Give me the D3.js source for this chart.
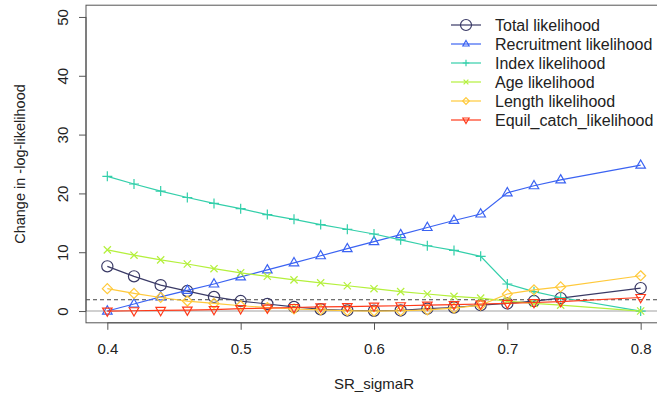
<!DOCTYPE html>
<html>
<head>
<meta charset="utf-8">
<script src="https://cdn.jsdelivr.net/npm/d3@7"></script>
<style>
  body { margin: 0; background: #fff; }
  svg { font-family: "Liberation Sans", Arial, sans-serif; }
</style>
</head>
<body>
<div id="chart"></div>
<script>
var width = 657,
  height = 407;

// data
var sigmaR = [0.40, 0.42, 0.44, 0.46, 0.48, 0.50, 0.52, 0.54, 0.56, 0.58, 0.60, 0.62, 0.64, 0.66, 0.68, 0.70, 0.72, 0.74, 0.80];
var totalLike = [7.6, 5.9, 4.4, 3.4, 2.4, 1.7, 1.2, 0.7, 0.3, 0.1, 0.05, 0.1, 0.4, 0.6, 1.0, 1.3, 1.7, 2.2, 3.9];
var recruitLike = [0, 1.2, 2.4, 3.5, 4.6, 5.8, 7.0, 8.2, 9.4, 10.6, 11.8, 13.0, 14.2, 15.4, 16.5, 20.1, 21.3, 22.3, 24.8];
var indexLike = [22.9, 21.6, 20.4, 19.3, 18.3, 17.4, 16.4, 15.6, 14.7, 13.9, 13.1, 12.1, 11.1, 10.3, 9.3, 4.6, 3.3, 2.3, 0];
var ageLike = [10.4, 9.5, 8.7, 8.0, 7.2, 6.5, 5.9, 5.3, 4.8, 4.3, 3.8, 3.3, 2.9, 2.5, 2.2, 1.7, 1.3, 1.0, 0];
var lengthLike = [3.8, 3.0, 2.3, 1.7, 1.3, 0.9, 0.6, 0.35, 0.2, 0.05, 0, 0.05, 0.2, 0.5, 1.0, 2.9, 3.6, 4.1, 6.0];
var equilLike = [0, 0.05, 0.1, 0.15, 0.25, 0.4, 0.5, 0.6, 0.7, 0.75, 0.85, 0.9, 1.0, 1.1, 1.2, 1.3, 1.45, 1.6, 2.3];

var seriesNames = ["Total likelihood", "Recruitment likelihood", "Index likelihood", "Age likelihood", "Length likelihood", "Equil_catch_likelihood"];
var seriesColors = ["#3a3a66", "#3b63f2", "#33cfaa", "#b4f03c", "#ffc93a", "#ff3a1a"];
var seriesShapes = ["circle", "triUp", "plus", "cross", "diamond", "triDown"];
var seriesData = [totalLike, recruitLike, indexLike, ageLike, lengthLike, equilLike];

var xTicks = [0.4, 0.5, 0.6, 0.7, 0.8];
var yTicks = [0, 10, 20, 30, 40, 50];
var cutoff = 1.92;

var x = d3.scaleLinear().domain([0.384, 0.816]).range([86, 662]);
var y = d3.scaleLinear().domain([-2, 52]).range([322.8, 5.2]);

var svg = d3.select("#chart")
  .append("svg")
  .attr("width", width)
  .attr("height", height);

// reference lines
svg.append("line")
  .attr("x1", 86).attr("x2", 662)
  .attr("y1", y(0)).attr("y2", y(0))
  .attr("stroke", "#d0d0d0")
  .attr("stroke-width", 2);

svg.append("line")
  .attr("x1", 86).attr("x2", 662)
  .attr("y1", y(cutoff)).attr("y2", y(cutoff))
  .attr("stroke", "#444")
  .attr("stroke-width", 1)
  .attr("stroke-dasharray", "4,3");

function symbolPath(shape, r) {
  switch (shape) {
    case "circle":
      return "M" + (-r) + ",0A" + r + "," + r + " 0 1,0 " + r + ",0A" + r + "," + r + " 0 1,0 " + (-r) + ",0Z";
    case "triUp":
      return "M0," + (-r * 1.05) + "L" + (r * 0.95) + "," + (r * 0.6) + "L" + (-r * 0.95) + "," + (r * 0.6) + "Z";
    case "triDown":
      return "M0," + (r * 1.05) + "L" + (r * 0.95) + "," + (-r * 0.6) + "L" + (-r * 0.95) + "," + (-r * 0.6) + "Z";
    case "plus":
      return "M" + (-r) + ",0H" + r + "M0," + (-r) + "V" + r;
    case "cross":
      var s = r * 0.72;
      return "M" + (-s) + "," + (-s) + "L" + s + "," + s + "M" + (-s) + "," + s + "L" + s + "," + (-s);
    case "diamond":
      return "M0," + (-r) + "L" + r + ",0L0," + r + "L" + (-r) + ",0Z";
  }
}

var symSize = { circle: 5.6, triUp: 5, triDown: 5, plus: 5, cross: 5, diamond: 5 };

var line = d3.line()
  .x(function (d, i) { return x(sigmaR[i]); })
  .y(function (d) { return y(d); });

seriesData.forEach(function (vals, k) {
  var g = svg.append("g");
  g.append("path")
    .attr("d", line(vals))
    .attr("fill", "none")
    .attr("stroke", seriesColors[k])
    .attr("stroke-width", 1.2);
  g.selectAll("path.pt")
    .data(vals)
    .enter().append("path")
    .attr("class", "pt")
    .attr("transform", function (d, i) { return "translate(" + x(sigmaR[i]) + "," + y(d) + ")"; })
    .attr("d", symbolPath(seriesShapes[k], symSize[seriesShapes[k]]))
    .attr("fill", "none")
    .attr("stroke", seriesColors[k])
    .attr("stroke-width", 1.2);
});

// plot box (right side runs past the window)
svg.append("rect")
  .attr("x", 86).attr("y", 5.2)
  .attr("width", 662 - 86).attr("height", 322.8 - 5.2)
  .attr("fill", "none")
  .attr("stroke", "#555")
  .attr("stroke-width", 1);

// axes
var xAxis = svg.append("g")
  .attr("transform", "translate(0," + 322.8 + ")")
  .call(d3.axisBottom(x).tickValues(xTicks).tickSize(7).tickPadding(14).tickFormat(d3.format(".1f")));
xAxis.select(".domain")
  .attr("d", "M" + x(0.4) + ",0H" + x(0.8));

var yAxis = svg.append("g")
  .attr("transform", "translate(86,0)")
  .call(d3.axisLeft(y).tickValues(yTicks).tickSize(7).tickPadding(5));
yAxis.select(".domain")
  .attr("d", "M0," + y(0) + "V" + y(50));
yAxis.selectAll(".tick text")
  .attr("transform", "rotate(-90)")
  .attr("x", 0)
  .attr("y", -18)
  .attr("dy", "0")
  .attr("text-anchor", "middle");

svg.selectAll(".domain, .tick line").attr("stroke", "#555");
svg.selectAll(".tick text")
  .attr("fill", "#222")
  .style("font-size", "15px")
  .style("font-family", "'Liberation Sans', Arial, sans-serif");

svg.append("text")
  .attr("x", 374).attr("y", 389)
  .attr("text-anchor", "middle")
  .attr("fill", "#222")
  .style("font-size", "15px")
  .text("SR_sigmaR");

svg.append("text")
  .attr("transform", "translate(25," + y(25) + ") rotate(-90)")
  .attr("text-anchor", "middle")
  .attr("fill", "#222")
  .style("font-size", "14.5px")
  .text("Change in -log-likelihood");

// legend
var legend = svg.append("g");
seriesNames.forEach(function (name, k) {
  var ly = 25 + k * 19;
  legend.append("line")
    .attr("x1", 451).attr("x2", 481)
    .attr("y1", ly).attr("y2", ly)
    .attr("stroke", seriesColors[k])
    .attr("stroke-width", 1.2);
  legend.append("path")
    .attr("transform", "translate(466," + ly + ")")
    .attr("d", symbolPath(seriesShapes[k], k == 0 ? 5.5 : 3.3))
    .attr("fill", "none")
    .attr("stroke", seriesColors[k])
    .attr("stroke-width", 1.2);
  legend.append("text")
    .attr("x", 495).attr("y", ly + 5.5)
    .attr("fill", "#222")
    .style("font-size", "16px")
    .text(name);
});
</script>
</body>
</html>
